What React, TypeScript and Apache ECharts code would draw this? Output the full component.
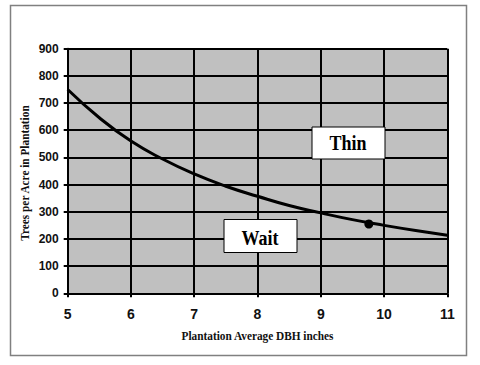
import React, { useEffect, useRef } from "react";
import * as echarts from "echarts";

const xTicks = [5, 6, 7, 8, 9, 10, 11];
const yTicks = [0, 100, 200, 300, 400, 500, 600, 700, 800, 900];
const dbh = [5, 5.5, 6, 6.5, 7, 7.5, 8, 8.5, 9, 9.5, 10, 10.5, 11];
const treesPerAcre = [750, 646, 560, 494, 439, 394, 357, 323, 296, 271, 250, 231, 214];
const markerPoint = [[9.76, 255]];
const annotations = ["Thin", "Wait"];
const xTitle = "Plantation Average DBH inches";
const yTitle = "Trees per Acre in Plantation";

export default function App() {
  const ref = useRef<HTMLDivElement>(null);
  useEffect(() => {
    if (!ref.current) return;
    const chart = echarts.init(ref.current, null, { renderer: "svg" });
    const serif = "'Liberation Serif', 'Times New Roman', serif";
    const sans = "'Liberation Sans', Arial, sans-serif";
    chart.setOption({
      animation: false,
      backgroundColor: "#ffffff",
      grid: {
        left: 67.7,
        top: 48.7,
        right: 32.7,
        bottom: 71.7,
        show: true,
        backgroundColor: "#c0c0c0",
        borderWidth: 0,
      },
      xAxis: {
        type: "value",
        min: xTicks[0],
        max: xTicks[xTicks.length - 1],
        interval: 1,
        axisLine: { show: true, lineStyle: { color: "#000", width: 2 } },
        axisTick: { show: true, length: 4, lineStyle: { color: "#000", width: 2 } },
        axisLabel: {
          margin: 14,
          color: "#111",
          fontFamily: sans,
          fontWeight: "bold",
          fontSize: 14,
        },
        splitLine: { show: true, lineStyle: { color: "#000", width: 2 } },
      },
      yAxis: {
        type: "value",
        min: yTicks[0],
        max: yTicks[yTicks.length - 1],
        interval: 100,
        axisLine: { show: true, lineStyle: { color: "#000", width: 2 } },
        axisTick: { show: true, length: 4, lineStyle: { color: "#000", width: 2 } },
        axisLabel: {
          margin: 9,
          color: "#111",
          fontFamily: sans,
          fontWeight: "bold",
          fontSize: 12,
        },
        splitLine: { show: true, lineStyle: { color: "#000", width: 2 } },
      },
      series: [
        {
          type: "line",
          data: dbh.map((x, i) => [x, treesPerAcre[i]]),
          smooth: 0.5,
          showSymbol: false,
          lineStyle: { color: "#000", width: 3 },
          z: 3,
        },
        {
          type: "scatter",
          data: markerPoint,
          symbolSize: 9,
          itemStyle: { color: "#000", opacity: 1 },
          z: 4,
        },
      ],
      graphic: [
        {
          type: "rect",
          shape: { x: 10.5, y: 5.5, width: 456, height: 350 },
          style: { fill: "none", stroke: "#808080", lineWidth: 1.5 },
          z: 100,
        },
        {
          type: "rect",
          shape: { x: 312, y: 127, width: 73, height: 32 },
          style: { fill: "#fff", stroke: "#000", lineWidth: 1 },
          z: 100,
        },
        {
          type: "text",
          x: 348,
          y: 143,
          scaleX: 0.9,
          style: {
            text: annotations[0],
            fontFamily: serif,
            fontWeight: "bold",
            fontSize: 20,
            fill: "#000",
            align: "center",
            verticalAlign: "middle",
          },
          z: 101,
        },
        {
          type: "rect",
          shape: { x: 224, y: 219.5, width: 73, height: 33 },
          style: { fill: "#fff", stroke: "#000", lineWidth: 1 },
          z: 100,
        },
        {
          type: "text",
          x: 260,
          y: 238,
          scaleX: 0.9,
          style: {
            text: annotations[1],
            fontFamily: serif,
            fontWeight: "bold",
            fontSize: 20,
            fill: "#000",
            align: "center",
            verticalAlign: "middle",
          },
          z: 101,
        },
        {
          type: "text",
          x: 257.5,
          y: 336,
          scaleX: 0.87,
          style: {
            text: xTitle,
            fontFamily: serif,
            fontWeight: "bold",
            fontSize: 13,
            fill: "#111",
            align: "center",
            verticalAlign: "middle",
          },
          z: 101,
        },
        {
          type: "text",
          x: 25,
          y: 173,
          rotation: Math.PI / 2,
          scaleX: 0.87,
          style: {
            text: yTitle,
            fontFamily: serif,
            fontWeight: "bold",
            fontSize: 13,
            fill: "#111",
            align: "center",
            verticalAlign: "middle",
          },
          z: 101,
        },
      ],
    });
    return () => chart.dispose();
  }, []);
  return (
    <div
      ref={ref}
      style={{ position: "fixed", left: 0, top: 0, width: 480, height: 365 }}
    />
  );
}
